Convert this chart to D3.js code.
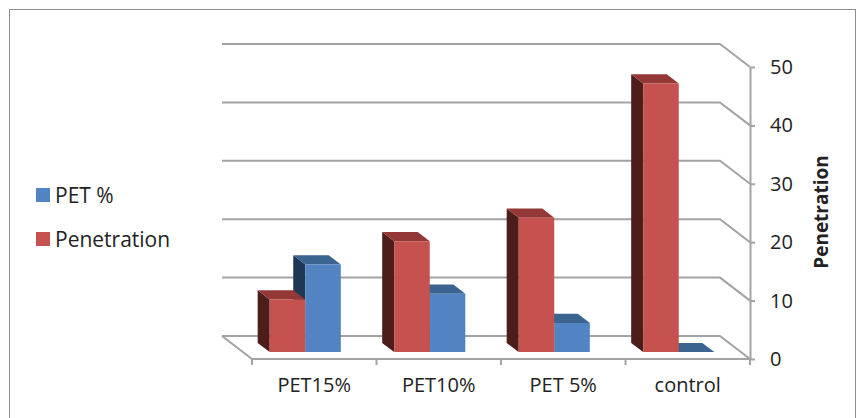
<!DOCTYPE html>
<html lang="en">

<head>
  <meta charset="UTF-8">
  <title>Penetration</title>
  <script src="https://d3js.org/d3.v7.min.js"></script>
  <style>
    body {
      margin: 0;
      background: #fff;
      font-family: "Open Sans", Arial, sans-serif;
    }

    text {
      fill: #222;
    }
  </style>
</head>

<body>
  <div id="chart"></div>

  <script>
    const categories = ["PET15%", "PET10%", "PET 5%", "control"];
    const series = ["Penetration", "PET %"];
    const penetration = [9, 19, 23, 46];
    const petPct = [15, 10, 5, 0];
    const yTicks = [0, 10, 20, 30, 40, 50];
    const legendOrder = ["PET %", "Penetration"];

    const colors = {
      "Penetration": { front: "#c5524e", top: "#933836", side: "#4d1d1b" },
      "PET %": { front: "#5284c3", top: "#3b6491", side: "#1f3754" }
    };

    const width = 864, height = 418;
    const DX = 30, DY = 23;          // depth offset (front -> back goes left/up)
    const z0 = 0.3, z1 = 0.7;        // bar depth span

    const svg = d3.select("#chart").append("svg")
      .attr("width", width)
      .attr("height", height);

    // outer frame
    svg.append("rect")
      .attr("x", 9.5).attr("y", 9.5)
      .attr("width", 846).attr("height", 430)
      .attr("fill", "none")
      .attr("stroke", "#8e8e8e");

    const x = d3.scaleBand().domain(categories).range([252, 750]);
    const xs = d3.scaleBand().domain(series).range([0, x.bandwidth()]).paddingOuter(0.75);
    const y = d3.scaleLinear().domain([0, 50]).range([359, 67]);

    const P = (px, v, z) => [px - DX * z, y(v) - DY * z];

    // walls + gridlines
    const grid = svg.append("g")
      .attr("fill", "none")
      .attr("stroke", "#a3a3a3")
      .attr("stroke-width", 2);

    yTicks.forEach(t => {
      const pts = [P(x.range()[0], t, 1), P(x.range()[1], t, 1), P(x.range()[1], t, 0)];
      grid.append("path").attr("d", d3.line()(pts));
    });
    // floor edges
    grid.append("path").attr("d", d3.line()([
      P(x.range()[0], 0, 1), P(x.range()[0], 0, 0), P(x.range()[1], 0, 0)
    ]));
    // category ticks
    const bounds = categories.map(c => x(c)).concat([x.range()[1]]);
    bounds.forEach(b => {
      grid.append("line")
        .attr("x1", b).attr("x2", b)
        .attr("y1", y(0)).attr("y2", y(0) + 6);
    });

    // right value axis
    const axis = svg.append("g")
      .attr("transform", `translate(${x.range()[1]},0)`)
      .call(d3.axisRight(y).tickValues(yTicks).tickSize(5).tickSizeOuter(0).tickPadding(15));
    axis.select(".domain").attr("stroke", "#a3a3a3").attr("stroke-width", 2);
    axis.selectAll(".tick line").attr("stroke", "#a3a3a3").attr("stroke-width", 2);
    axis.selectAll(".tick text")
      .attr("font-family", "Open Sans")
      .attr("font-size", 20)
      .attr("fill", "#222");

    svg.append("text")
      .attr("transform", "translate(828,212) rotate(-90)")
      .attr("text-anchor", "middle")
      .attr("font-size", 19)
      .attr("font-weight", "bold")
      .text("Penetration");

    // category labels
    svg.append("g").selectAll("text")
      .data(categories)
      .enter().append("text")
      .attr("x", d => x(d) + x.bandwidth() / 2)
      .attr("y", 392)
      .attr("text-anchor", "middle")
      .attr("font-size", 20)
      .text(d => d);

    // bars
    const rows = [];
    categories.forEach((c, i) => {
      // draw the back-right series first so the left one overlaps it
      rows.push({ cat: c, s: "PET %", v: petPct[i] });
      rows.push({ cat: c, s: "Penetration", v: penetration[i] });
    });

    const bars = svg.append("g");
    rows.forEach(d => {
      const xl = x(d.cat) + xs(d.s);
      const xr = xl + xs.bandwidth();
      const col = colors[d.s];
      const poly = pts => bars.append("path").attr("d", d3.line()(pts) + "Z");

      // left side
      if (d.v > 0) {
        poly([P(xl, 0, z0), P(xl, 0, z1), P(xl, d.v, z1), P(xl, d.v, z0)])
          .attr("fill", col.side);
      }
      // top
      poly([P(xl, d.v, z0), P(xl, d.v, z1), P(xr, d.v, z1), P(xr, d.v, z0)])
        .attr("fill", col.top);
      // front
      if (d.v > 0) {
        poly([P(xl, 0, z0), P(xl, d.v, z0), P(xr, d.v, z0), P(xr, 0, z0)])
          .attr("fill", col.front);
      }
    });

    // legend
    const legend = svg.append("g");
    legendOrder.forEach((s, i) => {
      const ly = 195 + i * 44;
      legend.append("rect")
        .attr("x", 36).attr("y", ly - 7)
        .attr("width", 14).attr("height", 14)
        .attr("fill", colors[s].front);
      legend.append("text")
        .attr("x", 55).attr("y", ly + 7.5)
        .attr("font-size", 21)
        .text(s);
    });
  </script>
</body>

</html>
